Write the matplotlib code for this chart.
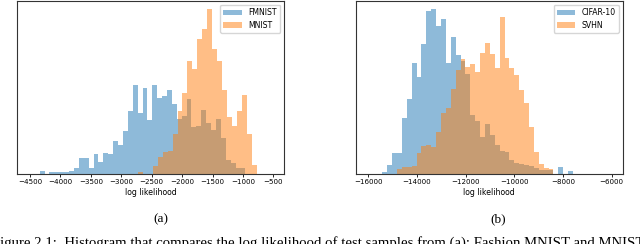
import numpy as np
import matplotlib
matplotlib.use('Agg')
import matplotlib.pyplot as plt

# histogram heights (arbitrary count units)
fmnist_start, fmnist_width = -4342, 80.5
fmnist_counts = [3.3, 0, 1.7, 1.7, 1.7, 1.7, 3, 6, 15.7, 15.7, 6, 19.7, 12.3, 21.3,
                 19.7, 33, 29, 43, 63.3, 89, 60.7, 86.3, 54, 89, 75.7, 78, 84, 70,
                 55, 58, 75, 47, 48, 64, 51, 44, 55, 36, 14, 11, 6, 6]

mnist_start, mnist_width = -2727, 81.4
mnist_counts = [2.5, 0, 0, 8, 17, 22, 23, 40, 63, 81, 113.5, 105, 135, 145, 165,
                125, 113.5, 84, 57.5, 48, 63, 79, 40, 9]

cifar_start, cifar_width = -15425, 201
cifar_counts = [1.7, 9, 21.3, 21.3, 55.7, 74.7, 110.7, 96.7, 129.7, 163, 164.7, 148.3,
                154.7, 110.7, 137.3, 119.3, 113, 100, 59, 53, 37, 50, 39, 29, 22.5,
                21.5, 14, 11, 9.5, 8.5, 7.5, 6, 4.3, 3.7, 3.7, 0, 6.5, 0, 2.7]

svhn_start, svhn_width = -14822, 201
svhn_counts = [5, 6.5, 6.5, 7.5, 20.7, 28, 29, 27, 42, 60.7, 66, 84.7, 104, 115, 107,
               110, 102, 120.7, 130.7, 120, 105.7, 156.7, 116.3, 105.7, 99, 84, 71.3,
               47.3, 22.3, 9.7, 5.7, 5]

left_ticks = np.arange(-4500, -499, 500)
right_ticks = np.arange(-16000, -5999, 2000)


def draw_hist(ax, start, width, counts, label):
    counts = np.asarray(counts, dtype=float)
    edges = start + width * np.arange(len(counts) + 1)
    ax.hist(edges[:-1], bins=edges, weights=counts, histtype='stepfilled',
            alpha=0.5, label=label)


fig = plt.figure(figsize=(6.4, 2.44), dpi=100)
W, H = 640, 244

panels = [
    (17, (fmnist_start, fmnist_width, fmnist_counts, 'FMNIST'),
     (mnist_start, mnist_width, mnist_counts, 'MNIST'), left_ticks, (-4715, -325)),
    (355.7, (cifar_start, cifar_width, cifar_counts, 'CIFAR-10'),
     (svhn_start, svhn_width, svhn_counts, 'SVHN'), right_ticks, (-16520, -5545)),
]

for x0, first, second, ticks, xlim in panels:
    ax = fig.add_axes([x0 / W, (H - 174) / H, 267 / W, 173 / H])
    draw_hist(ax, *first)
    draw_hist(ax, *second)
    ax.set_xlim(*xlim)
    ax.set_xticks(ticks)
    ax.set_yticks([])
    ax.tick_params(axis='x', labelsize=5.1, length=2.2, width=0.6, pad=1.5)
    ax.set_xlabel('log likelihood', fontsize=5.6, labelpad=2)
    for s in ax.spines.values():
        s.set_linewidth(0.8)
        s.set_color('#333333')
    ax.legend(loc='upper right', fontsize=5.6, handlelength=2.4, borderaxespad=0.5)

serif = ['Liberation Serif', 'DejaVu Serif']
fig.text(161 / W, 1 - 222.5 / H, '(a)', ha='center', va='baseline', fontsize=9.5, family=serif)
fig.text(498 / W, 1 - 222.5 / H, '(b)', ha='center', va='baseline', fontsize=9.5, family=serif)
fig.text(-8 / W, -2.5 / H,
         'Figure 2.1:  Histogram that compares the log likelihood of test samples '
         'from (a): Fashion MNIST and MNIST',
         ha='left', va='baseline', fontsize=10.6, family=serif)

fig.savefig('out.png', dpi=100)
